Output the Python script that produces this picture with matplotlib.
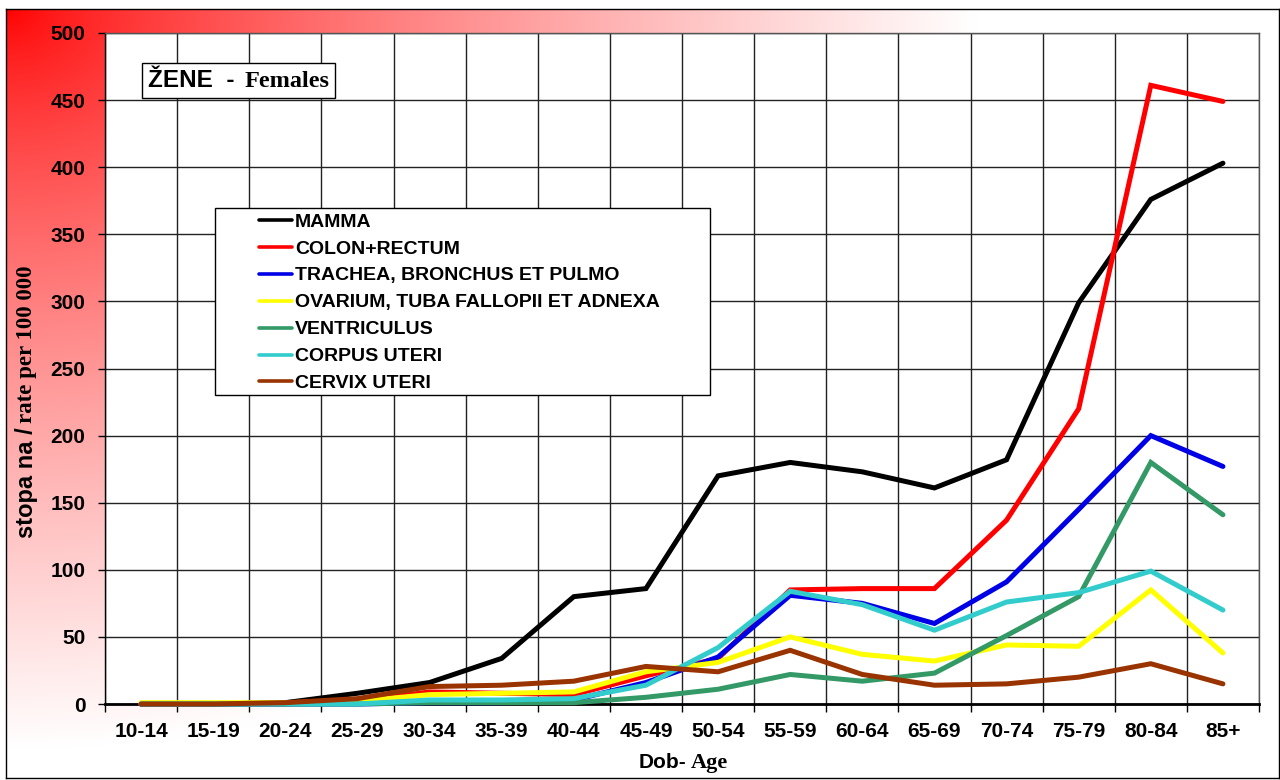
import numpy as np
import matplotlib
matplotlib.use("Agg")
import matplotlib.pyplot as plt
from matplotlib.offsetbox import TextArea, HPacker, AnchoredOffsetbox
from matplotlib.patches import Rectangle

# ---------------- data ----------------
age_groups = ["10-14", "15-19", "20-24", "25-29", "30-34", "35-39", "40-44", "45-49",
              "50-54", "55-59", "60-64", "65-69", "70-74", "75-79", "80-84", "85+"]
mamma        = [0, 0, 1, 8, 16, 34, 80, 86, 170, 180, 173, 161, 182, 299, 376, 403]
colon_rectum = [0, 0, 0, 2, 9, 8, 7, 21, 34, 85, 86, 86, 137, 220, 461, 449]
trachea      = [0, 0, 0, 0, 1, 1, 3, 16, 35, 81, 75, 60, 91, 145, 200, 177]
ovarium      = [1, 1, 1, 2, 7, 8, 9, 24, 31, 50, 37, 32, 44, 43, 85, 38]
ventriculus  = [0, 0, 0, 0, 1, 1, 1, 5, 11, 22, 17, 23, 51, 80, 180, 141]
corpus_uteri = [0, 0, 0, 0, 3, 3, 4, 14, 42, 84, 74, 55, 76, 83, 99, 70]
cervix_uteri = [0, 0, 1, 4, 13, 14, 17, 28, 24, 40, 22, 14, 15, 20, 30, 15]
series_names = ["MAMMA", "COLON+RECTUM", "TRACHEA, BRONCHUS ET PULMO",
                "OVARIUM, TUBA FALLOPII ET ADNEXA", "VENTRICULUS", "CORPUS UTERI",
                "CERVIX UTERI"]
series_values = [mamma, colon_rectum, trachea, ovarium, ventriculus, corpus_uteri, cervix_uteri]
series_colors = ["#000000", "#FF0000", "#0000E6", "#FFFF00", "#339966", "#33CCCC", "#993300"]
y_ticks = list(range(0, 501, 50))

SANS = "Liberation Sans"
SERIF = "Liberation Serif"

W, H = 1280, 780
fig = plt.figure(figsize=(W / 100, H / 100), dpi=100)
fig.patch.set_facecolor("white")


def fx(px):
    return px / W


def fy(py):
    return 1 - py / H


# ---------------- gradient background with frame ----------------
L, T, R, B = 6, 9, 1279, 778
bg = fig.add_axes([fx(L), fy(B), fx(R) - fx(L), fy(T) - fy(B)], zorder=-5)
xs = np.linspace(0, R - L, 640)
ys = np.linspace(0, B - T, 390)
X, Y = np.meshgrid(xs, ys)
d = np.sqrt((X / 1050.0) ** 2 + (Y / 800.0) ** 2)
t = np.clip(d * 1.08, 0, 1) ** 0.75
img = np.dstack([np.ones_like(t), t, t])
bg.imshow(img, extent=[0, 1, 0, 1], origin="upper", aspect="auto", interpolation="bilinear")
bg.set_xticks([])
bg.set_yticks([])
for s in bg.spines.values():
    s.set_color("black")
    s.set_linewidth(1.0)

# ---------------- main axes ----------------
ax = fig.add_axes([fx(105), fy(704), fx(1259) - fx(105), fy(33) - fy(704)], zorder=0)
ax.set_facecolor("white")
x = np.arange(len(age_groups))
handles = []
for vals, col, name in zip(series_values, series_colors, series_names):
    ln, = ax.plot(x, vals, color=col, lw=3.6, label=name, clip_on=False,
                  solid_joinstyle="miter", solid_capstyle="round", zorder=3)
    handles.append(ln)

ax.set_xlim(-0.5, len(age_groups) - 0.5)
ax.set_ylim(0, 500)
ax.set_xticks(np.arange(-0.5, len(age_groups), 1.0))
ax.set_xticklabels([])
ax.set_xticks(x, minor=True)
ax.set_xticklabels(age_groups, minor=True, fontfamily=SANS, fontweight="bold", fontsize=15)
ax.tick_params(axis="x", which="major", length=6, width=1, color="black", direction="out")
ax.tick_params(axis="x", which="minor", length=0, pad=13)
ax.set_yticks(y_ticks)
ax.set_yticklabels([str(v) for v in y_ticks], fontfamily=SANS, fontweight="bold", fontsize=15)
ax.tick_params(axis="y", length=5, width=1, color="black", direction="out", pad=9)
ax.grid(True, which="major", color="#222222", lw=1.0)
ax.set_axisbelow(True)
for side in ["top", "right"]:
    ax.spines[side].set_color("#555555")
    ax.spines[side].set_linewidth(1.0)
ax.spines["left"].set_color("black")
ax.spines["left"].set_linewidth(1.0)
ax.spines["bottom"].set_color("black")
ax.spines["bottom"].set_linewidth(2.0)

# ---------------- title box ----------------
ta1 = TextArea("ŽENE  -", textprops=dict(fontfamily=SANS, fontweight="bold", fontsize=17.5))
ta2 = TextArea("Females", textprops=dict(fontfamily=SERIF, fontweight="bold", fontsize=17.5))
pack = HPacker(children=[ta1, ta2], align="baseline", pad=0, sep=7)
title_box = AnchoredOffsetbox(loc="upper left", child=pack, pad=0.3, borderpad=0,
                              frameon=True, prop=dict(size=14),
                              bbox_to_anchor=(fx(142), fy(63)),
                              bbox_transform=fig.transFigure)
title_box.patch.set_boxstyle("square,pad=0")
title_box.patch.set_edgecolor("black")
title_box.patch.set_linewidth(1.0)
title_box.patch.set_facecolor("white")
title_box.set_zorder(6)
ax.add_artist(title_box)

# ---------------- legend ----------------
leg_rect = Rectangle((fx(215), fy(395)), fx(710) - fx(215), fy(208) - fy(395),
                     transform=fig.transFigure, facecolor="white", edgecolor="black",
                     lw=1.0, zorder=3)
fig.add_artist(leg_rect)
leg = fig.legend(handles=handles, labels=series_names, loc="upper left",
                 bbox_to_anchor=(fx(259), fy(213)), bbox_transform=fig.transFigure,
                 frameon=False, borderpad=0, borderaxespad=0,
                 handlelength=1.7, handletextpad=0.15, labelspacing=0.48,
                 prop=dict(family=SANS, weight="bold", size=14))
leg.set_zorder(4)
for lh in leg.get_lines():
    lh.set_linewidth(2.6)

# ---------------- axis labels ----------------
xa1 = TextArea("Dob-", textprops=dict(fontfamily=SANS, fontweight="bold", fontsize=15))
xa2 = TextArea("Age", textprops=dict(fontfamily=SERIF, fontweight="bold", fontsize=16))
xpack = HPacker(children=[xa1, xa2], align="baseline", pad=0, sep=3)
xlab = AnchoredOffsetbox(loc="center", child=xpack, pad=0, borderpad=0, frameon=False,
                         bbox_to_anchor=(fx(683), fy(763)), bbox_transform=fig.transFigure)
fig.add_artist(xlab)

yl1 = fig.text(fx(27), fy(538), "stopa na /", rotation=90, ha="center", va="bottom",
               fontfamily=SANS, fontweight="bold", fontsize=17)
fig.canvas.draw()
r = fig.canvas.get_renderer()
bb = yl1.get_window_extent(renderer=r)
yl2 = fig.text(fx(27), (bb.y1 + 4) / H, "rate per 100 000", rotation=90, ha="center",
               va="bottom", fontfamily=SERIF, fontweight="bold", fontsize=16.5)

fig.savefig("out.png", dpi=100)
